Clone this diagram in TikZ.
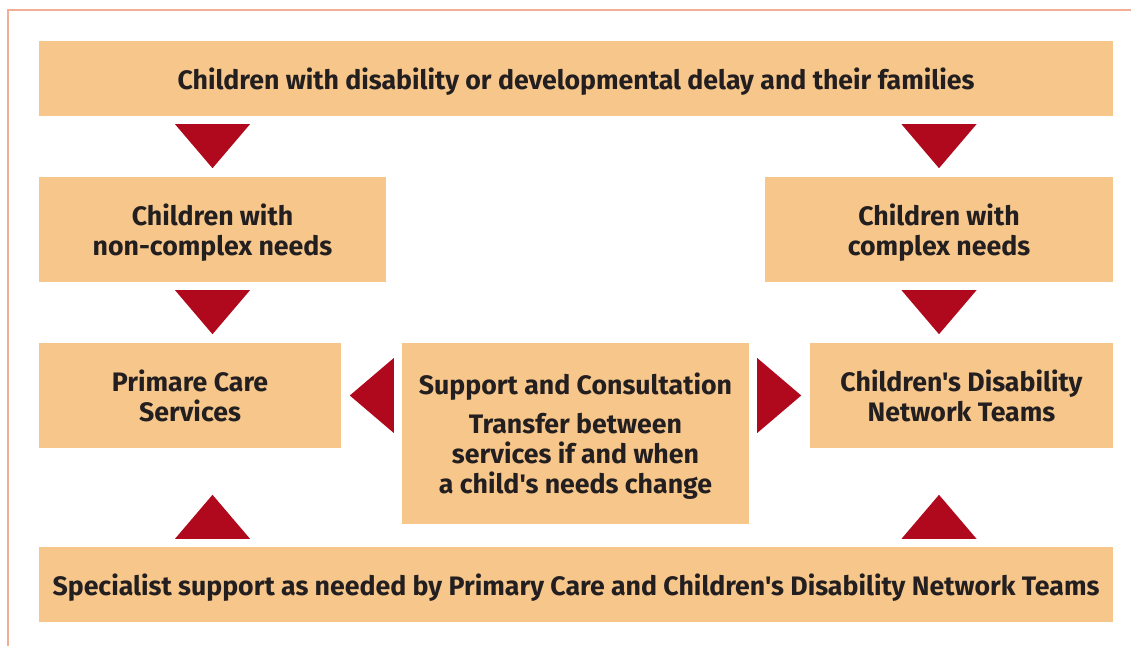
\documentclass[tikz,border=0pt]{standalone}
\usepackage{fontspec}
\setmainfont{Fira Sans}[Ligatures=TeXOff]
\usepackage{tikz}
\usetikzlibrary{calc}

\definecolor{boxfill}{HTML}{F6C68A}
\definecolor{arrowred}{HTML}{B0081D}
\definecolor{framecol}{HTML}{F2AE94}
\definecolor{textcol}{HTML}{231F20}

\tikzset{
  stage/.style={fill=boxfill, text=textcol, align=center, inner sep=0pt,
    text depth=0pt, font=\fontsize{26.7}{30}\selectfont\bfseries},
  pointer/.style={fill=arrowred}
}

\begin{document}
\begin{tikzpicture}
  [x=1pt, y=1pt]
  \useasboundingbox (0, 0) rectangle (1131, 646);
  \draw[framecol, line width=1.5pt] (8, 0) -- (8, 636) -- (1131, 636);

  \node[stage, minimum width=1074, minimum height=75] (top) at (576, 567.5)
    {Children with disability or developmental delay and their families};
  \node[stage, minimum width=347, minimum height=105] (nc) at (212.5, 416.5)
    {Children with\\non-complex needs};
  \node[stage, minimum width=348, minimum height=105] (cx) at (939, 416.5)
    {Children with\\complex needs};
  \node[stage, minimum width=302, minimum height=105] (pc) at (190, 250.5)
    {Primare Care\\Services};
  \node[stage, minimum width=347, minimum height=181] (sc) at (575.5, 212.5)
    {Support and Consultation\\[9pt]Transfer between\\services if and when\\a child's needs change};
  \node[stage, minimum width=303, minimum height=105] (cd) at (961.5, 250.5)
    {Children's Disability\\Network Teams};
  \node[stage, minimum width=1074, minimum height=75] (bot) at (576, 61.5)
    {Specialist support as needed by Primary Care and Children's Disability Network Teams};

  % base points of the pointers
  \coordinate (d1) at (nc.north |- top.south);
  \coordinate (d2) at (cx.north |- top.south);
  \coordinate (d3) at (nc.south);
  \coordinate (d4) at (cx.south);
  \coordinate (u1) at (nc.south |- bot.north);
  \coordinate (u2) at (cx.south |- bot.north);

  \foreach \c in {d1,d2,d3,d4}
  \fill[pointer] ($(\c)+(-37.5,-8)$) -- ($(\c)+(37.5,-8)$) -- ($(\c)+(0,-52)$) -- cycle;
  \foreach \c in {u1,u2}
  \fill[pointer] ($(\c)+(-37.5,8)$) -- ($(\c)+(37.5,8)$) -- ($(\c)+(0,52)$) -- cycle;
  \fill[pointer] ($(sc.west |- pc.east)+(-8,37.5)$) -- ($(sc.west |- pc.east)+(-8,-37.5)$)
    -- ($(sc.west |- pc.east)+(-52,0)$) -- cycle;
  \fill[pointer] ($(sc.east |- cd.west)+(8,37.5)$) -- ($(sc.east |- cd.west)+(8,-37.5)$)
    -- ($(sc.east |- cd.west)+(52,0)$) -- cycle;
\end{tikzpicture}
\end{document}
